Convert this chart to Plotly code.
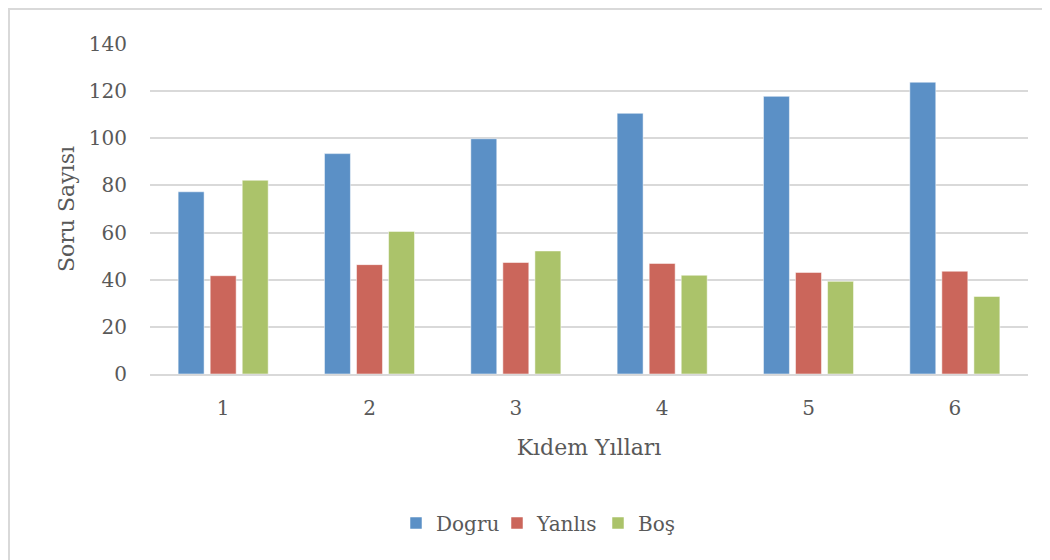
import plotly.graph_objects as go

# Kıdem yılları (years of seniority) and question counts per answer type
years = ["1", "2", "3", "4", "5", "6"]
dogru = [77.3, 93.5, 99.8, 110.6, 117.8, 123.8]
yanlis = [41.7, 46.4, 47.3, 46.9, 43.1, 43.6]
bos = [82.2, 60.5, 52.2, 41.9, 39.3, 32.9]

FONT = "DejaVu Serif"
GREY = "#595959"
GRID = "#d9d9d9"

# the page body adds an 8px offset, so the margins below are shifted by 8
L, T, R, B = 142, 36, 30, 194
PW, PH = 1050 - L - R, 560 - T - B

fig = go.Figure()
for name, vals, color in [
    ("Dogru", dogru, "#5b90c6"),
    ("Yanlıs", yanlis, "#cb665b"),
    ("Boş", bos, "#abc36a"),
]:
    fig.add_trace(go.Bar(
        x=years, y=vals, name=name,
        marker=dict(color=color, line=dict(color="rgba(255,255,255,0.5)", width=1)),
    ))

# outer chart border (runs past the right and bottom edges of the picture)
fig.add_shape(
    type="rect", xref="paper", yref="paper",
    x0=(1 - L) / PW, x1=(1080 - L) / PW,
    y0=(PH + T - 600) / PH, y1=(PH + T - 1) / PH,
    line=dict(color=GRID, width=2), fillcolor="rgba(0,0,0,0)", layer="below",
)

fig.update_layout(
    width=1050, height=560,
    margin=dict(l=L, r=R, t=T, b=B, autoexpand=False),
    paper_bgcolor="white", plot_bgcolor="white",
    font=dict(family=FONT, color=GREY, size=20),
    barmode="group", bargap=0.343, bargroupgap=0.19,
    showlegend=True,
    legend=dict(
        orientation="h", xref="container", yref="container",
        x=388 / 1050, xanchor="left",
        y=1 - 515 / 560, yanchor="middle",
        font=dict(family=FONT, color=GREY, size=20),
        itemwidth=30, traceorder="normal",
        entrywidth=56, entrywidthmode="pixels",
    ),
    xaxis=dict(
        showgrid=False, showline=True, linecolor=GRID, linewidth=2,
        ticks="", ticklabelstandoff=15,
        title=dict(text="Kıdem Yılları", standoff=21, font=dict(size=22)),
    ),
    yaxis=dict(
        range=[0, 140], dtick=20, showgrid=True, gridcolor=GRID, gridwidth=2,
        zeroline=False, showline=False, ticks="", ticklabelstandoff=22,
        title=dict(text="Soru Sayısı", standoff=8, font=dict(size=22)),
    ),
)

fig.write_html("out.html")
